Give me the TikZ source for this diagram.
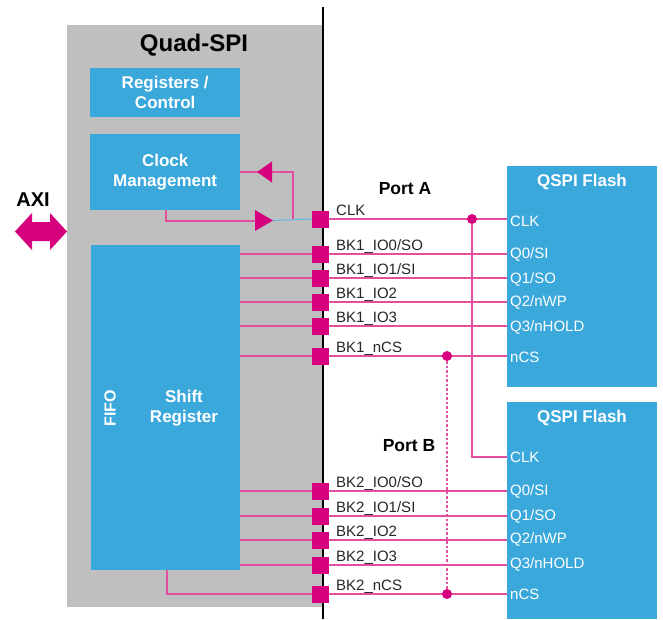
\documentclass[tikz,border=0pt]{standalone}
\usepackage{fontspec}
\setmainfont{Liberation Sans}
\definecolor{qblue}{RGB}{58,168,219}
\definecolor{qgray}{RGB}{191,191,191}
\definecolor{qmag}{RGB}{214,0,127}
\definecolor{qpink}{RGB}{228,78,158}
\definecolor{qlblue}{RGB}{90,185,230}
\begin{document}
\begin{tikzpicture}[x=1pt,y=-1pt,
  box/.style={fill=#1, draw=none, inner sep=0, anchor=north west},
  blk/.style={box=qblue, text=white, font=\bfseries\fontsize{17}{20}\selectfont, align=center},
  pad/.style={fill=qmag, minimum width=17pt, minimum height=17pt, inner sep=0},
  sig/.style={draw=qpink, line width=1.1pt},
  lab/.style={anchor=base west, font=\fontsize{15}{17}\selectfont, text=black!85, inner sep=0},
  pin/.style={anchor=west, font=\fontsize{15}{17}\selectfont, text=white, inner sep=0},
  jdot/.style={circle, fill=qmag, minimum size=10pt, inner sep=0},
  ttl/.style={font=\bfseries\fontsize{17.5}{20}\selectfont, inner sep=0},
  wttl/.style={font=\bfseries\fontsize{17}{20}\selectfont, text=white, inner sep=0}]

\useasboundingbox (0,0) rectangle (663,619);

% main blocks
\node[box=qgray, minimum width=256pt, minimum height=582pt] (qspi) at (67,25) {};
\node[font=\bfseries\fontsize{24}{27}\selectfont, inner sep=0] (qtitle) at (194,45) {Quad-SPI};
\node[blk, minimum width=150pt, minimum height=49pt] (regs) at (90,68) {Registers /\\Control};
\node[blk, minimum width=150pt, minimum height=76pt] (clkm) at (90,134) {Clock\\Management};
\node[box=qblue, minimum width=149pt, minimum height=325pt] (fifo) at (91,245) {};
\node[wttl, align=center] (shreg) at (184,408) {Shift\\Register};
\node[wttl, rotate=90, font=\bfseries\fontsize{16}{18}\selectfont] (fifot) at (110,408) {FIFO};

\node[box=qblue, minimum width=150pt, minimum height=221pt] (fl1) at (507,166) {};
\node[wttl] (fl1t) at (582,182) {QSPI Flash};
\node[box=qblue, minimum width=150pt, minimum height=217pt] (fl2) at (507,402) {};
\node[wttl] (fl2t) at (582,418) {QSPI Flash};

% boundary line
\draw[line width=2.5pt] (323,7) -- (323,619);

% AXI
\node[font=\bfseries\fontsize{20}{22}\selectfont, inner sep=0] (axit) at (33,200) {AXI};
\fill[qmag] (15,231.5) -- (32,213) -- (32,222) -- (50,222) -- (50,213) -- (67,231.5)
  -- (50,250) -- (50,241) -- (32,241) -- (32,250) -- cycle;

% ports labels
\node[ttl] (porta) at (405,189) {Port A};
\node[ttl] (portb) at (409,446) {Port B};

% pads
\foreach \n/\y/\t in {pclk/219/{CLK}, pa0/254/{BK1\_IO0/SO}, pa1/278/{BK1\_IO1/SI}, pa2/302/{BK1\_IO2},
  pa3/326/{BK1\_IO3}, pacs/356/{BK1\_nCS}, pb0/491/{BK2\_IO0/SO}, pb1/516/{BK2\_IO1/SI},
  pb2/540/{BK2\_IO2}, pb3/565/{BK2\_IO3}, pbcs/594/{BK2\_nCS}}{
  \node[pad] (\n) at (320.5,\y) {};
  \node[lab] (\n l) at (336,\y-4) {\t};
}

% clock management loop
\coordinate (fbtop) at (293,172);
\coordinate (fbbot) at (293,218.5);
\coordinate (cmdown) at (166,221);
\coordinate (trin) at (255,221);
\draw[sig] (clkm.east |- fbtop) -- (fbtop) -- (fbbot);
\draw[sig] (clkm.south -| cmdown) -- (cmdown) -- (trin);
\fill[qmag] (257,172) -- (272,161.5) -- (272,182.5) -- cycle;
\fill[qmag] (255,210) -- (273,220.5) -- (255,231) -- cycle;
\coordinate (trtip) at (273,220.5);
\draw[qlblue, line width=1pt] (trtip) -- (pclk.west);

% FIFO to pads
\foreach \n in {pa0,pa1,pa2,pa3,pacs,pb0,pb1,pb2,pb3}{
  \draw[sig] (fifo.east |- \n) -- (\n.west);
}
\coordinate (csb) at (167,594);
\draw[sig] (fifo.south -| csb) -- (csb) -- (pbcs.west);

% pads to flash
\foreach \n in {pa0,pa1,pa2,pa3,pacs}{
  \draw[sig] (\n.east) -- (fl1.west |- \n);
}
\foreach \n in {pb0,pb1,pb2,pb3,pbcs}{
  \draw[sig] (\n.east) -- (fl2.west |- \n);
}
\draw[sig] (pclk.east) -- (fl1.west |- pclk);

% junctions
\node[jdot] (dclk) at (472,219) {};
\node[jdot] (dcsa) at (447,356) {};
\node[jdot] (dcsb) at (447,594) {};
\coordinate (clk2) at (472,457);
\draw[sig] (dclk) -- (clk2) -- (fl2.west |- clk2);
\draw[qpink, line width=1.1pt, dash pattern=on 2.5pt off 2pt] (dcsa) -- (dcsb);

% flash pin labels
\foreach \y/\t in {221/{CLK}, 254/{Q0/SI}, 279/{Q1/SO}, 302/{Q2/nWP}, 327/{Q3/nHOLD}, 357/{nCS}}{
  \node[pin] at (510,\y) {\t};
}
\foreach \y/\t in {457/{CLK}, 491/{Q0/SI}, 516/{Q1/SO}, 539/{Q2/nWP}, 564/{Q3/nHOLD}, 594/{nCS}}{
  \node[pin] at (510,\y) {\t};
}
\end{tikzpicture}
\end{document}
